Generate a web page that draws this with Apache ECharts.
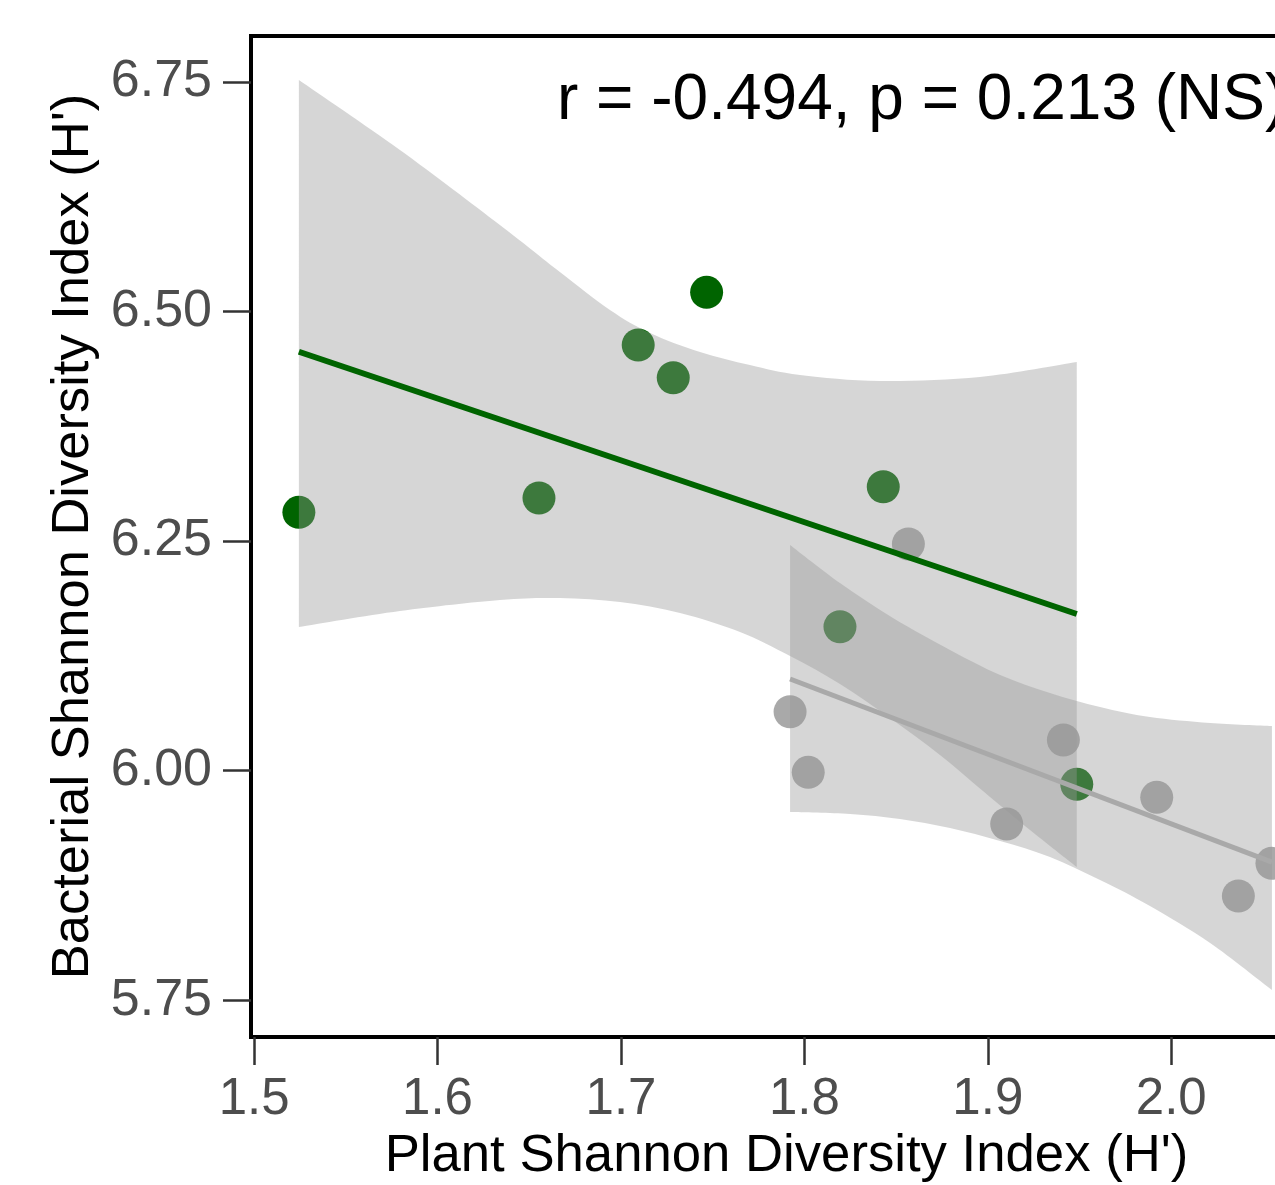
<!DOCTYPE html>
<html>
<head>
<meta charset="utf-8">
<script src="https://cdn.jsdelivr.net/npm/echarts@6/dist/echarts.min.js"></script>
<style>
  html, body { margin: 0; padding: 0; background: #fff; }
  #chart { width: 1275px; height: 1185px; }
</style>
</head>
<body>
<div id="chart"></div>
<script>
// points
const greenX = [1.5244, 1.6553, 1.7094, 1.7285, 1.7467, 1.8430, 1.8194, 1.9485];
const greenY = [6.2813, 6.2969, 6.4635, 6.4279, 6.5209, 6.3092, 6.1567, 5.9851];
const greyX = [1.8567, 1.7922, 1.8021, 1.9412, 1.9103, 1.9921, 2.0366, 2.0549];
const greyY = [6.2468, 6.0642, 5.9982, 6.0334, 5.9419, 5.9710, 5.8635, 5.8991];

// fitted lines (end points)
const greenFitX = [1.5244, 1.9485];
const greenFitY = [6.4562, 6.1706];
const greyFitX = [1.7922, 2.0549];
const greyFitY = [6.0998, 5.9005];

// confidence ribbons, edges
const greenUpX = [1.5244, 1.5795, 1.6340, 1.6667, 1.6940, 1.7158, 1.7431, 1.7703, 1.7976, 1.8412, 1.8957, 1.9485];
const greenUpY = [6.7521, 6.6759, 6.5942, 6.5430, 6.5016, 6.4766, 6.4559, 6.4417, 6.4308, 6.4243, 6.4287, 6.4450];
const greenLoX = [1.5244, 1.5795, 1.6340, 1.6667, 1.6995, 1.7322, 1.7649, 1.7922, 1.8194, 1.8467, 1.8739, 1.9012, 1.9230, 1.9485];
const greenLoY = [6.1564, 6.1738, 6.1858, 6.1880, 6.1836, 6.1717, 6.1510, 6.1248, 6.0944, 6.0573, 6.0170, 5.9713, 5.9354, 5.8951];
const greyUpX = [1.7922, 1.8194, 1.8483, 1.8794, 1.9067, 1.9339, 1.9612, 1.9884, 2.0212, 2.0549];
const greyUpY = [6.2457, 6.2043, 6.1662, 6.1314, 6.1042, 6.0846, 6.0693, 6.0584, 6.0519, 6.0486];
const greyLoX = [1.7922, 1.8249, 1.8521, 1.8794, 1.9067, 1.9339, 1.9612, 1.9884, 2.0212, 2.0549];
const greyLoY = [5.9550, 5.9528, 5.9473, 5.9375, 5.9234, 5.9060, 5.8809, 5.8526, 5.8123, 5.7611];

const xTicks = [1.5, 1.6, 1.7, 1.8, 1.9, 2.0];
const yTicks = [5.75, 6.0, 6.25, 6.5, 6.75];

const font = "'Liberation Sans', Arial, Helvetica, sans-serif";
const zip = (xs, ys) => xs.map((x, i) => [x, ys[i]]);

// smooth curve through pixel points (catmull-rom as cubic beziers)
function curve(pts) {
  let d = '';
  for (let i = 0; i < pts.length - 1; i++) {
    const p0 = pts[Math.max(i - 1, 0)];
    const p1 = pts[i];
    const p2 = pts[i + 1];
    const p3 = pts[Math.min(i + 2, pts.length - 1)];
    const c1 = [p1[0] + (p2[0] - p0[0]) / 6, p1[1] + (p2[1] - p0[1]) / 6];
    const c2 = [p2[0] - (p3[0] - p1[0]) / 6, p2[1] - (p3[1] - p1[1]) / 6];
    d += ' C' + c1[0] + ',' + c1[1] + ' ' + c2[0] + ',' + c2[1] + ' ' + p2[0] + ',' + p2[1];
  }
  return d;
}

function band(upX, upY, loX, loY) {
  return {
    type: 'custom',
    z: 3,
    silent: true,
    data: [[upX[0], upY[0]]],
    renderItem: (params, api) => {
      const up = upX.map((x, i) => api.coord([x, upY[i]]));
      const lo = loX.map((x, i) => api.coord([x, loY[i]])).reverse();
      const d = 'M' + up[0][0] + ',' + up[0][1] + curve(up) +
        ' L' + lo[0][0] + ',' + lo[0][1] + curve(lo) + ' Z';
      return {
        type: 'path',
        shape: { pathData: d, layout: 'center' },
        style: { fill: 'rgba(153,153,153,0.4)' }
      };
    }
  };
}

const chart = echarts.init(document.getElementById('chart'), null, { renderer: 'canvas' });

const option = {
  animation: false,
  backgroundColor: '#fff',
  title: {
    text: 'r = -0.494, p = 0.213 (NS)',
    left: 557,
    top: 69,
    padding: 0,
    textStyle: { fontSize: 64, fontWeight: 'normal', color: '#000', fontFamily: font }
  },
  grid: {
    left: 251,
    top: 36,
    right: -47,
    bottom: 148,
    outerBoundsMode: 'none',
    show: true,
    borderColor: '#000',
    borderWidth: 4,
    backgroundColor: 'transparent'
  },
  xAxis: {
    type: 'value',
    min: 1.4983,
    max: 2.0822,
    splitLine: { show: false },
    axisLine: { show: true, lineStyle: { color: '#000', width: 4 } },
    axisTick: { show: true, length: 28, customValues: xTicks, lineStyle: { color: '#333', width: 2.5 } },
    axisLabel: {
      customValues: xTicks,
      formatter: v => v.toFixed(1),
      color: '#4D4D4D',
      fontSize: 51,
      margin: 37,
      fontFamily: font
    },
    name: "Plant Shannon Diversity Index (H')",
    nameLocation: 'middle',
    nameGap: 87,
    nameTextStyle: { fontSize: 52.7, color: '#000', fontFamily: font }
  },
  yAxis: {
    type: 'value',
    min: 5.71,
    max: 6.8,
    splitLine: { show: false },
    axisLine: { show: true, lineStyle: { color: '#000', width: 4 } },
    axisTick: { show: true, length: 28, customValues: yTicks, lineStyle: { color: '#333', width: 2.5 } },
    axisLabel: {
      customValues: yTicks,
      formatter: v => v.toFixed(2),
      color: '#4D4D4D',
      fontSize: 52,
      margin: 39,
      fontFamily: font
    },
    name: "Bacterial Shannon Diversity Index (H')",
    nameLocation: 'middle',
    nameGap: 149,
    nameTextStyle: { fontSize: 52.5, color: '#000', fontFamily: font }
  },
  series: [
    {
      type: 'scatter', z: 2, symbolSize: 33,
      itemStyle: { color: '#006400', opacity: 1 },
      data: zip(greenX, greenY)
    },
    {
      type: 'scatter', z: 2, symbolSize: 33,
      itemStyle: { color: '#A9A9A9', opacity: 1 },
      data: zip(greyX, greyY)
    },
    band(greenUpX, greenUpY, greenLoX, greenLoY),
    {
      type: 'line', z: 4, showSymbol: false, silent: true,
      lineStyle: { color: '#006400', width: 6 },
      data: zip(greenFitX, greenFitY)
    },
    band(greyUpX, greyUpY, greyLoX, greyLoY),
    {
      type: 'line', z: 4, showSymbol: false, silent: true,
      lineStyle: { color: '#A9A9A9', width: 5 },
      data: zip(greyFitX, greyFitY)
    }
  ]
};

chart.setOption(option);
window.addEventListener('resize', chart.resize);
</script>
</body>
</html>
